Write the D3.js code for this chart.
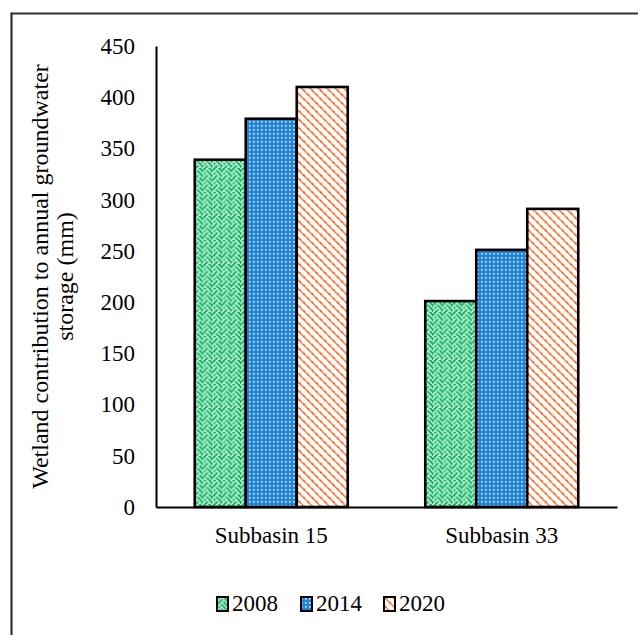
<!DOCTYPE html>
<html>
<head>
<meta charset="utf-8">
<script src="https://cdn.jsdelivr.net/npm/d3@7"></script>
<style>
  html, body { margin: 0; padding: 0; background: #fff; }
  svg { display: block; }
  text { font-family: "Liberation Serif", "Times New Roman", serif; fill: #000; }
</style>
</head>
<body>
<svg id="chart" width="638" height="635"></svg>
<script>
// Wetland contribution to annual groundwater storage (mm)
const categories = ["Subbasin 15", "Subbasin 33"];
const years = ["2008", "2014", "2020"];
const values2008 = [339, 201];
const values2014 = [379, 251];
const values2020 = [410, 291];
const yTicks = [0, 50, 100, 150, 200, 250, 300, 350, 400, 450];

const seriesValues = { "2008": values2008, "2014": values2014, "2020": values2020 };

const svg = d3.select("#chart");
const W = 638, H = 635;
const margin = { left: 156, right: 21, top: 46, bottom: 128 };
const plotW = W - margin.left - margin.right;
const plotH = H - margin.top - margin.bottom;
const FONT = "23px";

// ---- fill patterns ----
const defs = svg.append("defs");

// green weave, built from an 8x8 bitmap
const weaveRows = [0x88, 0x54, 0x22, 0x45, 0x88, 0x14, 0x22, 0x51];
const px = 1.2;
const pg = defs.append("pattern").attr("id", "pat2008")
  .attr("patternUnits", "userSpaceOnUse").attr("width", 8 * px).attr("height", 8 * px);
pg.append("rect").attr("width", 8 * px).attr("height", 8 * px).attr("fill", "#0fb862");
weaveRows.forEach((bits, r) => {
  for (let c = 0; c < 8; c++) {
    if (bits & (0x80 >> c)) {
      pg.append("rect").attr("x", c * px).attr("y", r * px)
        .attr("width", px * 1.4).attr("height", px).attr("fill", "#ffffff");
    }
  }
});

// blue dotted grid
const pb = defs.append("pattern").attr("id", "pat2014")
  .attr("patternUnits", "userSpaceOnUse").attr("width", 4).attr("height", 4);
pb.append("rect").attr("width", 4).attr("height", 4).attr("fill", "#2284d6");
pb.append("rect").attr("x", 1).attr("y", 1).attr("width", 1.6).attr("height", 1.6).attr("fill", "#d6ecfb");

// orange diagonal stripes
const po = defs.append("pattern").attr("id", "pat2020")
  .attr("patternUnits", "userSpaceOnUse").attr("width", 6).attr("height", 6)
  .attr("patternTransform", "rotate(-45)");
po.append("rect").attr("width", 6).attr("height", 6).attr("fill", "#ffffff");
po.append("rect").attr("x", 0).attr("y", 0).attr("width", 1.5).attr("height", 6).attr("fill", "#f8783a");
po.append("circle").attr("cx", 0.8).attr("cy", 3).attr("r", 1.1).attr("fill", "#f05a10");

const fills = { "2008": "url(#pat2008)", "2014": "url(#pat2014)", "2020": "url(#pat2020)" };

// ---- frame (top and left edges) ----
svg.append("line").attr("x1", 11).attr("x2", W).attr("y1", 13.5).attr("y2", 13.5)
  .attr("stroke", "#333").attr("stroke-width", 2.2);
svg.append("line").attr("x1", 11.5).attr("x2", 11.5).attr("y1", 12.5).attr("y2", H)
  .attr("stroke", "#333").attr("stroke-width", 2.2);

// ---- scales ----
const y = d3.scaleLinear().domain([0, 450]).range([margin.top + plotH, margin.top]);
const x0 = d3.scaleBand().domain(categories).range([margin.left, margin.left + plotW]).padding(0);
const x1 = d3.scaleBand().domain(years).range([0, x0.bandwidth()])
  .paddingInner(0).paddingOuter(0.76);

const g = svg.append("g");

// ---- bars ----
categories.forEach((c, ci) => {
  years.forEach(yr => {
    const v = seriesValues[yr][ci];
    g.append("rect")
      .attr("x", x0(c) + x1(yr))
      .attr("y", y(v))
      .attr("width", x1.bandwidth())
      .attr("height", y(0) - y(v))
      .attr("fill", fills[yr])
      .attr("stroke", "#000")
      .attr("stroke-width", 2.6);
  });
});

// ---- y axis ----
const yAxis = d3.axisLeft(y).tickValues(yTicks).tickSize(0).tickPadding(21);
const ya = svg.append("g").attr("transform", `translate(${margin.left},0)`).call(yAxis);
ya.attr("font-size", null).attr("font-family", null);
ya.select(".domain").attr("stroke", "#000").attr("stroke-width", 2);
ya.selectAll("text").style("font-size", FONT);

// ---- x axis ----
const xAxis = d3.axisBottom(x0).tickSize(0).tickPadding(20);
const xa = svg.append("g").attr("transform", `translate(0,${y(0)})`).call(xAxis);
xa.attr("font-size", null).attr("font-family", null);
xa.select(".domain").attr("stroke", "#000").attr("stroke-width", 2);
xa.selectAll("text").style("font-size", FONT);

// ---- y axis title ----
const title = svg.append("text")
  .attr("transform", `translate(48,${(margin.top + margin.top + plotH) / 2}) rotate(-90)`)
  .attr("text-anchor", "middle")
  .style("font-size", "24px");
title.append("tspan").attr("x", 0).attr("dy", 0).text("Wetland contribution to annual groundwater");
title.append("tspan").attr("x", 0).attr("dy", 25).text("storage (mm)");

// ---- legend ----
const legend = svg.append("g").attr("transform", "translate(216,597)");
const legendX = d3.scaleOrdinal().domain(years).range([0, 84, 167]);
years.forEach(yr => {
  const lg = legend.append("g").attr("transform", `translate(${legendX(yr)},0)`);
  lg.append("rect").attr("x", 1).attr("y", 0).attr("width", 11).attr("height", 14)
    .attr("fill", fills[yr]).attr("stroke", "#000").attr("stroke-width", 2);
  lg.append("text").attr("x", 16).attr("y", 14).style("font-size", FONT).text(yr);
});
</script>
</body>
</html>
